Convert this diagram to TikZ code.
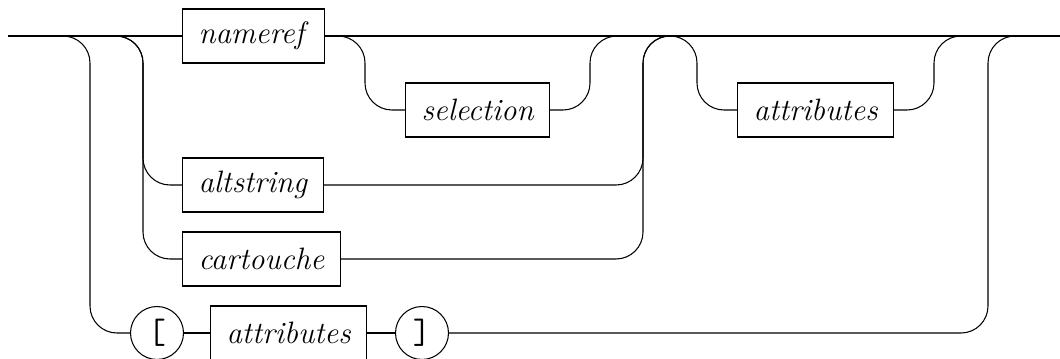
\documentclass[tikz,border=0pt]{standalone}
\usepackage{fontspec}
\setmainfont{Latin Modern Roman}
\usetikzlibrary{positioning}
\tikzset{
  term/.style={draw, line width=0.6pt, anchor=west, minimum height=1.08cm, inner xsep=0.32cm,
    font=\fontsize{17.6}{20}\selectfont\itshape},
  tok/.style={draw, circle, line width=0.6pt, minimum size=1.06cm, inner sep=0pt,
    font=\fontsize{20}{22}\selectfont\ttfamily},
  rail/.style={line width=0.6pt, rounded corners=0.54cm},
}
\begin{document}
\begin{tikzpicture}[x=0.02cm, y=-0.02cm]
    \useasboundingbox (0,0) rectangle (1060,358);
    \node[term] (nameref) at (182,36) {nameref\/};
    \node[term] (selection) at (405,110) {selection};
    \node[term] (attrs) at (737,110) {attributes};
    \node[term] (altstring) at (182,185) {altstring};
    \node[term] (cartouche) at (182,259) {cartouche};
    \node[tok] (lbrack) at (157,333) {[};
    \node[term] (attrsb) at (210,333) {attributes};
    \node[tok] (rbrack) at (422,333) {]};
    \coordinate (start) at (8,36);
    \coordinate (end) at (1060,36);
    \coordinate (fork1) at (63,36);
    \coordinate (fork2) at (117,36);
    \coordinate (fork3) at (338,36);
    \coordinate (fork4) at (670,36);
    \coordinate (join1) at (988,36);
    \coordinate (join2) at (643,36);
    \coordinate (join3) at (590,36);
    \coordinate (join4) at (934,36);
    \draw[rail] (start) -- (nameref.west);
    \draw[rail] (nameref.east) -- (end);
    \draw[rail] (fork1) -- ++(27,0) |- (lbrack.west);
    \draw[rail] (fork2) -- ++(26,0) |- (altstring.west);
    \draw[rail] (fork2) -- ++(26,0) |- (cartouche.west);
    \draw[rail] (fork3) -- ++(27,0) |- (selection.west);
    \draw[rail] (selection.east) -| (join3) -- ++(28,0);
    \draw[rail] (altstring.east) -| (join2) -- ++(27,0);
    \draw[rail] (cartouche.east) -| (join2) -- ++(27,0);
    \draw[rail] (fork4) -- ++(27,0) |- (attrs.west);
    \draw[rail] (attrs.east) -| (join4) -- ++(27,0);
    \draw[rail] (lbrack) -- (attrsb);
    \draw[rail] (attrsb) -- (rbrack);
    \draw[rail] (rbrack.east) -| (join1) -- ++(27,0);
  \end{tikzpicture}
\end{document}
